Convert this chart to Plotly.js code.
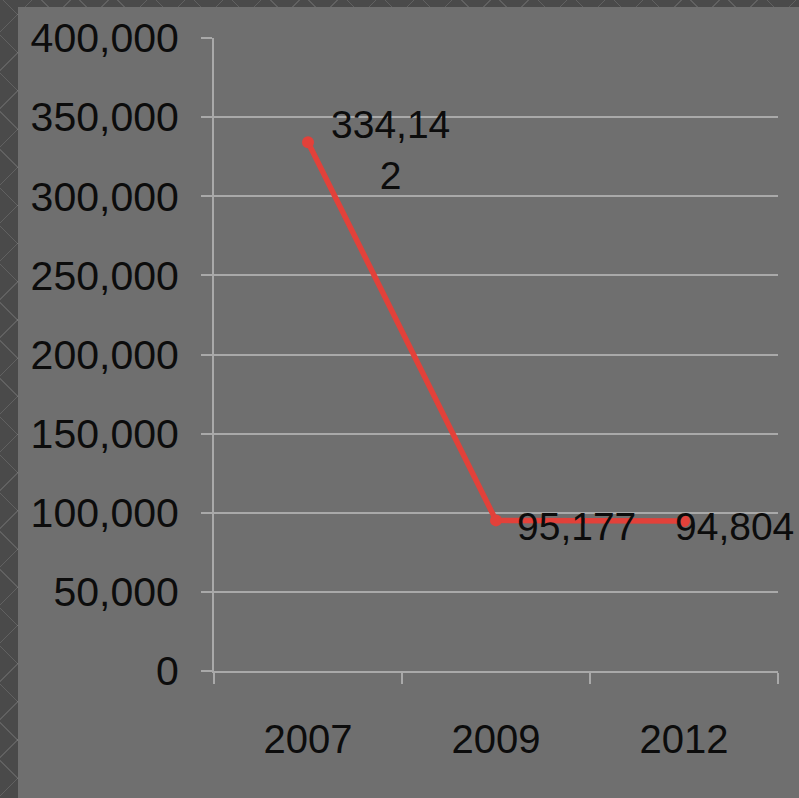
<!DOCTYPE html>
<html>
<head>
<meta charset="utf-8">
<script src="https://cdn.plot.ly/plotly-3.0.1.min.js"></script>
<style>
  html, body { margin: 0; padding: 0; }
  body {
    width: 799px; height: 798px; overflow: hidden; position: relative;
    background-color: #4a4a4a;
    background-image:
      repeating-linear-gradient(45deg, transparent 0 26px, rgba(255,255,255,0.13) 26px 27px),
      repeating-linear-gradient(-45deg, transparent 0 26px, rgba(255,255,255,0.13) 26px 27px);
  }
  #chart { position: absolute; left: 18px; top: 7px; width: 781px; height: 791px; }
</style>
</head>
<body>
<div id="chart"></div>
<script>
// Yearly totals
const years = ['2007', '2009', '2012'];
const totals = [334142, 95177, 94804];
const yTickValues = [0, 50000, 100000, 150000, 200000, 250000, 300000, 350000, 400000];

// Data labels sit in a narrow box, so long numbers wrap onto a second line
function wrapLabel(s, maxChars) {
  const parts = [];
  for (let i = 0; i < s.length; i += maxChars) parts.push(s.slice(i, i + maxChars));
  return parts.join('<br>');
}
const labelText = totals.map(v => wrapLabel(v.toLocaleString('en-US'), 6));
const labelShiftX = [82, 80, 50];
const labelShiftY = [-8, -6, -6];

const fontFamily = '"Liberation Sans", Arial, sans-serif';
const ink = '#0c0c0c';
const gridColor = '#a9a9a9';
const lineColor = '#e2413a';

const trace = {
  type: 'scatter',
  mode: 'lines+markers',
  x: years,
  y: totals,
  line: { color: lineColor, width: 5.5 },
  marker: { color: lineColor, size: 12 },
  hoverinfo: 'none',
  cliponaxis: false
};

// On a category axis, annotations are placed by category index
const annotations = years.map((yr, i) => ({
  x: i, y: totals[i], xref: 'x', yref: 'y',
  text: labelText[i], showarrow: false,
  xanchor: 'center', yanchor: 'middle', align: 'center',
  xshift: labelShiftX[i], yshift: labelShiftY[i],
  font: { family: fontFamily, size: 39, color: ink }
}));

const layout = {
  width: 781, height: 791,
  margin: { l: 196, r: 21, t: 31, b: 127 },
  paper_bgcolor: '#6f6f6f',
  plot_bgcolor: '#6f6f6f',
  showlegend: false,
  font: { family: fontFamily, color: ink },
  xaxis: {
    type: 'category',
    range: [-0.5, 2.5],
    tickson: 'boundaries',
    ticks: 'outside', ticklen: 11, tickwidth: 2, tickcolor: gridColor,
    showline: true, linecolor: gridColor, linewidth: 2,
    showgrid: false, zeroline: false,
    ticklabelstandoff: 32,
    tickfont: { family: fontFamily, size: 40, color: ink },
    fixedrange: true
  },
  yaxis: {
    range: [0, 400000],
    tickvals: yTickValues,
    tickformat: ',d',
    ticks: 'outside', ticklen: 11, tickwidth: 2, tickcolor: gridColor,
    showline: true, linecolor: gridColor, linewidth: 2,
    showgrid: true, gridcolor: gridColor, gridwidth: 2,
    zeroline: false,
    ticklabelstandoff: 14,
    tickfont: { family: fontFamily, size: 41, color: ink },
    fixedrange: true
  },
  annotations: annotations
};

Plotly.newPlot('chart', [trace], layout, { staticPlot: true, displayModeBar: false });
</script>
</body>
</html>
